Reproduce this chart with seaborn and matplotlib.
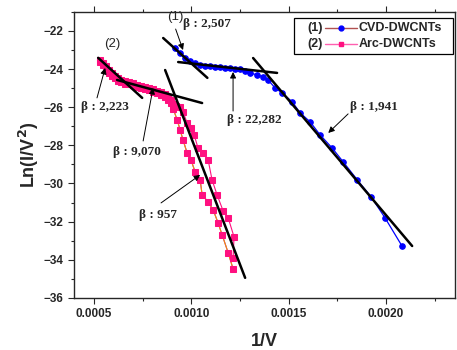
import pandas as pd
import seaborn as sns
import matplotlib.pyplot as plt
from matplotlib.patches import Rectangle

# --- Data ---
cvd_x = [0.000916, 0.000942, 0.000968, 0.000993, 0.001019, 0.001045, 0.001070, 0.001096,
         0.001122, 0.001148, 0.001173, 0.001199, 0.001225, 0.001250, 0.001276, 0.001302,
         0.001338, 0.001369, 0.001394, 0.001430, 0.001466, 0.001518, 0.001559, 0.001610,
         0.001661, 0.001723, 0.001780, 0.001852, 0.001923, 0.001995, 0.002083]
cvd_y = [-22.89, -23.15, -23.42, -23.57, -23.68, -23.78, -23.84, -23.86,
         -23.89, -23.91, -23.94, -23.94, -23.97, -23.99, -24.10, -24.20,
         -24.31, -24.41, -24.57, -24.99, -25.25, -25.72, -26.30, -26.77,
         -27.45, -28.14, -28.87, -29.81, -30.70, -31.81, -33.30]

arc_top_x = [0.000531, 0.000546, 0.000562, 0.000577, 0.000593, 0.000608, 0.000623, 0.000639,
             0.000659, 0.000680, 0.000700, 0.000721, 0.000742, 0.000763, 0.000783, 0.000803,
             0.000824, 0.000844, 0.000865, 0.000880, 0.000896, 0.000906]
arc_top_y = [-23.52, -23.68, -23.84, -24.05, -24.20, -24.36, -24.46, -24.57,
             -24.62, -24.67, -24.73, -24.83, -24.88, -24.94, -24.99, -25.04,
             -25.15, -25.20, -25.30, -25.46, -25.62, -25.83]
# a second, slightly offset sweep over the knee region
arc_top2_y = [-23.62, -23.80, -23.98, -24.18, -24.34, -24.48, -24.60, -24.70,
              -24.76, -24.80, -24.86, -24.95, -25.00, -25.06, -25.12, -25.18,
              -25.28, -25.34, -25.46, -25.62, -25.80, -26.00]

arc_a_x = [0.000921, 0.000942, 0.000957, 0.000978, 0.000998, 0.001014, 0.001034, 0.001060,
           0.001086, 0.001106, 0.001132, 0.001163, 0.001189, 0.001219, 0.001214]
arc_a_y = [-25.93, -25.99, -26.25, -26.82, -27.09, -27.45, -28.14, -28.40,
           -28.77, -29.81, -30.60, -31.44, -31.81, -32.80, -33.90]

arc_b_x = [0.000906, 0.000927, 0.000942, 0.000957, 0.000978, 0.000998, 0.001019, 0.001045,
           0.001055, 0.001086, 0.001112, 0.001137, 0.001158, 0.001189, 0.001214]
arc_b_y = [-26.14, -26.67, -27.19, -27.72, -28.40, -28.77, -29.39, -29.81,
           -30.60, -30.97, -31.39, -32.07, -32.70, -33.64, -34.48]

# linear fits (start, end)
fit_x = [(0.000855, 0.001082), (0.000932, 0.001440), (0.001317, 0.002134),
         (0.000521, 0.000747), (0.000618, 0.001055), (0.000865, 0.001276)]
fit_y = [(-22.37, -24.46), (-23.63, -24.20), (-23.42, -33.28),
         (-23.41, -25.51), (-24.57, -25.78), (-24.05, -34.95)]

beta_labels = ["β : 2,507", "β : 22,282", "β : 1,941", "β : 2,223", "β : 9,070", "β : 957"]
beta_text_xy = [(0.000957, -21.63), (0.001183, -26.67), (0.001816, -25.99),
                (0.000433, -25.99), (0.000598, -28.35), (0.000731, -31.65)]
beta_tail_xy = [(0.000919, -21.90), (0.001214, -26.20), (0.001805, -26.35),
                (0.000515, -25.51), (0.000752, -27.77), (0.000844, -31.02)]
beta_head_xy = [(0.000957, -23.00), (0.001214, -24.15), (0.001703, -27.35),
                (0.000557, -23.94), (0.000803, -24.99), (0.001045, -29.55)]

legend_tags = ["(1)", "(2)"]
legend_names = ["CVD-DWCNTs", "Arc-DWCNTs"]

BLUE = "#0000ff"
PINK = "#ff1080"

cvd = pd.DataFrame({"x": cvd_x, "y": cvd_y})
arc_a = pd.DataFrame({"x": arc_top_x + arc_a_x, "y": arc_top_y + arc_a_y})
arc_b = pd.DataFrame({"x": arc_top_x + arc_b_x, "y": arc_top2_y + arc_b_y})

# --- Plot ---
sns.set_style("ticks")
plt.rcParams["font.family"] = ["Liberation Sans", "DejaVu Sans"]

fig = plt.figure(figsize=(4.57, 3.5), dpi=100)
ax = fig.add_axes([0.162, 0.149, 0.834, 0.817])

sns.lineplot(data=arc_b, x="x", y="y", sort=False, color="#8a2be2", lw=0.8, ax=ax)
sns.lineplot(data=arc_b, x="x", y="y", sort=False, color="#ff8c00", lw=0.8,
             marker="s", markersize=4.5, markerfacecolor=PINK, markeredgecolor=PINK, ax=ax)
sns.lineplot(data=arc_a, x="x", y="y", sort=False, color=PINK, lw=0.8,
             marker="s", markersize=4.5, markerfacecolor=PINK, markeredgecolor=PINK, ax=ax)
sns.lineplot(data=cvd, x="x", y="y", sort=False, color=BLUE, lw=0.9,
             marker="o", markersize=4, markerfacecolor=BLUE, markeredgecolor=BLUE, ax=ax)

for fx, fy in zip(fit_x, fit_y):
    ax.plot(fx, fy, color="black", lw=1.8, zorder=5)

for lab, txy, tail, head in zip(beta_labels, beta_text_xy, beta_tail_xy, beta_head_xy):
    ax.text(txy[0], txy[1], lab, ha="left", va="center", fontsize=9.5,
            fontweight="bold", family="Liberation Serif", zorder=6)
    ax.annotate("", xy=head, xytext=tail,
                arrowprops=dict(arrowstyle="-|>", color="black", lw=0.7,
                                mutation_scale=9, shrinkA=0, shrinkB=0), zorder=6)

ax.text(0.000916, -21.27, "(1)", ha="center", va="center", fontsize=9.5)
ax.text(0.000593, -22.68, "(2)", ha="center", va="center", fontsize=9.5)

# --- Legend (drawn by hand: tag, line sample, name) ---
ax.add_patch(Rectangle((0.577, 0.853), 0.418, 0.126, transform=ax.transAxes,
                       facecolor="white", edgecolor="black", lw=0.9, zorder=7))
leg_styles = [("#b05050", BLUE, "o"), ("#ff60b0", PINK, "s")]
for i, (tag, name) in enumerate(zip(legend_tags, legend_names)):
    yy = 0.944 - i * 0.056
    lc, mc, mk = leg_styles[i]
    ax.text(0.612, yy, tag, transform=ax.transAxes, ha="left", va="center",
            fontsize=9, fontweight="bold", zorder=8)
    ax.plot([0.659, 0.743], [yy, yy], transform=ax.transAxes, color=lc, lw=1,
            zorder=8, clip_on=False)
    ax.plot([0.701], [yy], transform=ax.transAxes, marker=mk, markersize=3.5,
            color=mc, zorder=8, clip_on=False)
    ax.text(0.747, yy, name, transform=ax.transAxes, ha="left", va="center",
            fontsize=9, fontweight="bold", zorder=8)

# --- Formatting ---
ax.set_xlim(0.000397, 0.002355)
ax.set_ylim(-36, -21)
ax.set_xticks([0.0005, 0.0010, 0.0015, 0.0020])
ax.set_xticklabels(["0.0005", "0.0010", "0.0015", "0.0020"])
ax.set_xticks([0.00075, 0.00125, 0.00175, 0.00225], minor=True)
ax.set_yticks(range(-36, -21, 2))
ax.set_yticks(range(-35, -20, 2), minor=True)
ax.tick_params(axis="both", which="major", labelsize=8.5, length=4, width=0.8,
               direction="out")
ax.tick_params(axis="both", which="minor", length=2.5, width=0.8, direction="out")
ax.tick_params(axis="x", which="both", top=True, labeltop=False)
for t in ax.get_xticklabels() + ax.get_yticklabels():
    t.set_fontweight("bold")
for s in ax.spines.values():
    s.set_linewidth(1.0)

ax.set_xlabel("1/V", fontsize=13, fontweight="bold", labelpad=9)
ax.set_ylabel("Ln(I/V$^\\mathbf{2}$)", fontsize=13, fontweight="bold", labelpad=2)

plt.savefig("out.png", dpi=100)
